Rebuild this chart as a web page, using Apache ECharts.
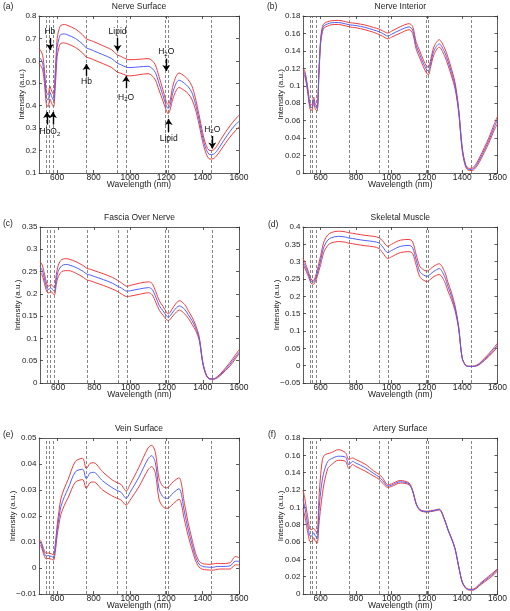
<!DOCTYPE html>
<html><head><meta charset="utf-8">
<script src="https://cdn.jsdelivr.net/npm/echarts@6/dist/echarts.min.js"></script>
<style>html,body{margin:0;padding:0;background:#fff}#c{width:510px;height:611px}</style>
</head><body><div id="c"></div>
<script>
const W = [500,510,520,530,540,550,560,570,580,590,600,610,620,640,660,700,740,760,780,800,850,900,930,950,980,1000,1050,1100,1120,1140,1160,1180,1200,1210,1220,1240,1270,1300,1320,1340,1360,1380,1400,1420,1440,1460,1480,1500,1550,1580,1600];

const aMean = [0.617,0.608,0.59,0.53,0.44,0.425,0.46,0.44,0.425,0.53,0.66,0.70,0.718,0.72,0.715,0.70,0.675,0.658,0.652,0.645,0.628,0.61,0.59,0.583,0.572,0.57,0.573,0.576,0.568,0.548,0.50,0.45,0.40,0.388,0.40,0.47,0.514,0.50,0.485,0.46,0.41,0.34,0.26,0.205,0.182,0.184,0.20,0.225,0.285,0.315,0.33];
const aUp = [0.655,0.645,0.625,0.56,0.465,0.448,0.487,0.465,0.45,0.565,0.70,0.74,0.758,0.762,0.757,0.742,0.716,0.698,0.692,0.686,0.668,0.649,0.627,0.62,0.608,0.605,0.607,0.61,0.603,0.582,0.53,0.475,0.418,0.405,0.42,0.50,0.546,0.532,0.516,0.49,0.435,0.36,0.28,0.222,0.2,0.203,0.222,0.25,0.31,0.34,0.358];
const aLo = [0.588,0.578,0.56,0.5,0.41,0.395,0.43,0.41,0.395,0.49,0.62,0.66,0.678,0.68,0.675,0.66,0.635,0.617,0.612,0.605,0.588,0.57,0.55,0.545,0.535,0.533,0.538,0.543,0.535,0.515,0.47,0.425,0.38,0.364,0.38,0.44,0.481,0.468,0.454,0.43,0.385,0.318,0.24,0.185,0.162,0.164,0.18,0.203,0.26,0.288,0.306];

const bMean = [0.117,0.114,0.104,0.09,0.076,0.075,0.084,0.076,0.074,0.115,0.152,0.165,0.169,0.171,0.1722,0.1725,0.171,0.17,0.1695,0.169,0.167,0.164,0.162,0.16,0.157,0.159,0.164,0.1675,0.164,0.146,0.136,0.126,0.118,0.117,0.124,0.14,0.148,0.139,0.128,0.115,0.1,0.072,0.028,0.008,0.004,0.0045,0.009,0.016,0.037,0.052,0.061];
const bUp = [0.1197,0.117,0.107,0.093,0.079,0.078,0.087,0.079,0.077,0.118,0.155,0.168,0.1715,0.1735,0.1745,0.175,0.1735,0.1725,0.172,0.1715,0.1697,0.1668,0.165,0.163,0.1605,0.1625,0.1677,0.1712,0.168,0.15,0.14,0.13,0.122,0.1215,0.128,0.1445,0.1528,0.1435,0.1325,0.119,0.1035,0.0745,0.03,0.0095,0.0053,0.006,0.011,0.0185,0.04,0.0555,0.065];
const bLo = [0.1138,0.111,0.101,0.087,0.073,0.072,0.081,0.073,0.071,0.112,0.149,0.162,0.1665,0.1685,0.17,0.1703,0.1687,0.1677,0.167,0.1665,0.1643,0.1612,0.1588,0.1568,0.1538,0.1557,0.1603,0.1643,0.16,0.142,0.132,0.122,0.114,0.1128,0.12,0.1355,0.1444,0.1345,0.1235,0.111,0.0965,0.0695,0.026,0.0068,0.0028,0.003,0.007,0.0135,0.034,0.0485,0.0566];

const cMean = [0.261,0.255,0.242,0.225,0.211,0.21,0.214,0.209,0.206,0.232,0.25,0.258,0.263,0.266,0.265,0.259,0.25,0.244,0.242,0.239,0.232,0.224,0.217,0.213,0.206,0.207,0.211,0.214,0.21,0.193,0.173,0.162,0.15,0.1475,0.151,0.162,0.173,0.165,0.153,0.14,0.124,0.1,0.045,0.017,0.009,0.009,0.013,0.02,0.042,0.058,0.069];
const cUp = [0.272,0.267,0.253,0.235,0.219,0.217,0.222,0.217,0.214,0.243,0.263,0.272,0.277,0.279,0.278,0.272,0.263,0.257,0.255,0.252,0.245,0.237,0.23,0.225,0.217,0.219,0.224,0.227,0.223,0.205,0.184,0.172,0.158,0.155,0.159,0.172,0.1847,0.176,0.162,0.148,0.13,0.104,0.047,0.018,0.0095,0.0095,0.0145,0.022,0.046,0.063,0.0745];
const cLo = [0.25,0.244,0.231,0.215,0.203,0.202,0.206,0.201,0.198,0.221,0.238,0.245,0.25,0.252,0.252,0.246,0.237,0.231,0.229,0.226,0.219,0.211,0.205,0.2,0.194,0.195,0.199,0.2025,0.198,0.181,0.163,0.152,0.142,0.14,0.143,0.153,0.1638,0.155,0.145,0.132,0.118,0.096,0.043,0.016,0.0085,0.0085,0.0115,0.018,0.038,0.054,0.0655];

const dMean = [0.299,0.29,0.278,0.265,0.25,0.242,0.241,0.25,0.265,0.285,0.305,0.328,0.345,0.362,0.369,0.373,0.371,0.368,0.367,0.365,0.361,0.358,0.354,0.343,0.326,0.332,0.344,0.347,0.34,0.305,0.272,0.262,0.258,0.259,0.264,0.272,0.28,0.258,0.228,0.2,0.165,0.11,0.022,0.001,-0.002,-0.002,0.0,0.006,0.03,0.047,0.059];
const dUp = [0.309,0.299,0.286,0.272,0.256,0.247,0.246,0.257,0.274,0.296,0.318,0.342,0.36,0.377,0.384,0.388,0.386,0.383,0.382,0.38,0.376,0.373,0.369,0.36,0.344,0.35,0.362,0.364,0.357,0.32,0.287,0.277,0.273,0.274,0.279,0.287,0.294,0.272,0.24,0.21,0.172,0.114,0.023,0.0015,-0.0015,-0.0015,0.001,0.008,0.034,0.052,0.065];
const dLo = [0.292,0.282,0.27,0.258,0.244,0.236,0.235,0.243,0.256,0.274,0.292,0.314,0.33,0.347,0.354,0.358,0.356,0.353,0.352,0.35,0.346,0.343,0.338,0.326,0.309,0.314,0.326,0.329,0.323,0.29,0.257,0.247,0.243,0.244,0.249,0.257,0.263,0.243,0.215,0.19,0.158,0.106,0.021,0.0005,-0.0025,-0.0025,-0.001,0.004,0.026,0.042,0.054];

const eMean = [0.0101,0.0095,0.0075,0.0055,0.0046,0.0048,0.0046,0.0044,0.004,0.008,0.0145,0.0195,0.0235,0.0275,0.0305,0.037,0.038,0.0343,0.0365,0.0368,0.0335,0.031,0.0298,0.0292,0.0268,0.029,0.035,0.042,0.0432,0.0405,0.0305,0.0275,0.0268,0.0268,0.0275,0.029,0.0305,0.0215,0.015,0.0095,0.0045,0.0015,0.0006,0.0004,0.0003,0.0003,0.0006,0.0006,0.0008,0.0026,0.0026];
const eUp = [0.0108,0.0104,0.0085,0.0065,0.0056,0.0058,0.0056,0.0054,0.005,0.0095,0.0165,0.022,0.0265,0.0308,0.034,0.041,0.0422,0.0382,0.0402,0.0405,0.037,0.034,0.0328,0.0322,0.0296,0.032,0.0388,0.0462,0.0472,0.0445,0.0345,0.0315,0.0308,0.031,0.0318,0.0333,0.0347,0.0248,0.0175,0.0115,0.006,0.0027,0.0017,0.0015,0.0014,0.0016,0.0018,0.0017,0.002,0.0044,0.004];
const eLo = [0.0092,0.0086,0.0065,0.0045,0.0035,0.0037,0.0035,0.0034,0.003,0.0065,0.0125,0.017,0.0205,0.0242,0.027,0.033,0.034,0.0306,0.0328,0.0331,0.03,0.0278,0.0268,0.0262,0.0242,0.026,0.0313,0.0378,0.039,0.0365,0.0265,0.0237,0.023,0.023,0.0235,0.0248,0.0265,0.0185,0.0125,0.0075,0.003,0.0004,-0.0005,-0.0007,-0.0008,-0.0008,-0.0005,-0.0004,-0.0004,0.0012,0.0012];

const fMean = [0.109,0.1,0.088,0.076,0.067,0.067,0.0706,0.067,0.064,0.095,0.118,0.133,0.142,0.153,0.156,0.159,0.158,0.149,0.153,0.151,0.146,0.139,0.135,0.131,0.1245,0.1255,0.1295,0.127,0.119,0.104,0.097,0.0955,0.095,0.0952,0.0955,0.0962,0.0975,0.086,0.074,0.064,0.052,0.032,0.014,0.007,0.005,0.005,0.007,0.011,0.019,0.024,0.028];
const fUp = [0.1197,0.111,0.097,0.085,0.0745,0.0745,0.0756,0.073,0.07,0.11,0.138,0.155,0.16,0.162,0.163,0.1666,0.163,0.155,0.157,0.155,0.15,0.142,0.138,0.134,0.126,0.127,0.131,0.128,0.1195,0.1045,0.0975,0.096,0.0955,0.0957,0.096,0.0967,0.098,0.0865,0.0745,0.0645,0.0525,0.0325,0.0145,0.0075,0.0055,0.0056,0.0078,0.012,0.0205,0.0255,0.0292];
const fLo = [0.0987,0.09,0.079,0.068,0.0605,0.0605,0.065,0.061,0.0584,0.08,0.1,0.116,0.1286,0.1447,0.149,0.1543,0.153,0.1447,0.1493,0.147,0.142,0.136,0.1324,0.128,0.123,0.124,0.128,0.126,0.1185,0.1035,0.0965,0.095,0.0945,0.0947,0.095,0.0957,0.097,0.0855,0.0735,0.0635,0.0515,0.0315,0.0135,0.0065,0.0045,0.0044,0.0062,0.01,0.0175,0.0225,0.0268];

const titles = ['Nerve Surface','Nerve Interior','Fascia Over Nerve','Skeletal Muscle','Vein Surface','Artery Surface'];
const tags = ['(a)','(b)','(c)','(d)','(e)','(f)'];
const yMin = [0.1, 0, 0, -0.05, -0.01, 0];
const yMax = [0.8, 0.18, 0.35, 0.4, 0.05, 0.18];
const yStep = [0.1, 0.02, 0.05, 0.05, 0.01, 0.02];
const xTicks = [600, 800, 1000, 1200, 1400, 1600];
const bandLines = [542, 555, 577, 760, 930, 980, 1195, 1210, 1450];

// panel (a) annotations
const annoText = ['Hb', 'HbO2', 'Hb', 'Lipid', 'H2O', 'H2O', 'Lipid', 'H2O'];
const annoX = [560, 560, 761, 932, 979, 1200, 1213, 1453];
const annoY = [0.729, 0.283, 0.507, 0.731, 0.436, 0.64, 0.255, 0.295];
const arrowX = [560, 544, 577, 761, 932, 979, 1200, 1213, 1453];
const arrowFrom = [0.702, 0.316, 0.316, 0.533, 0.702, 0.478, 0.61, 0.283, 0.265];
const arrowTo = [0.648, 0.372, 0.372, 0.586, 0.644, 0.532, 0.555, 0.341, 0.209];

const panels = [[aUp,aMean,aLo],[bUp,bMean,bLo],[cUp,cMean,cLo],[dUp,dMean,dLo],[eUp,eMean,eLo],[fUp,fMean,fLo]];

const FONT = 'Liberation Sans, Arial, Helvetica, sans-serif';
const RED = '#f23c3c', BLUE = '#5060ff', AX = '#333';
const gridPos = [
  {left:39, top:16, width:200, height:157},
  {left:303, top:16, width:199, height:157},
  {left:40, top:227, width:199, height:156},
  {left:303, top:227, width:199, height:156},
  {left:39, top:438, width:200, height:156},
  {left:303, top:438, width:199, height:156}
];
const yNameGap = [13.5, 18, 18, 22.5, 22.5, 18];
const tagPos = [[3,2],[267,2],[3,219],[268,220],[3,430],[268,430]];

function fmtY(v){
  if (Math.abs(v) < 1e-9) return '0';
  const s = String(parseFloat(v.toFixed(4)));
  return s.replace('-', '\u2212');
}
function richLabel(t){
  if (t === 'H2O') return '{n|H}{s|2}{n|O}';
  if (t === 'HbO2') return '{n|HbO}{s|2}';
  return '{n|' + t + '}';
}

const grid = [], xAxis = [], yAxis = [], series = [], graphic = [];
const lineAx = {show:true, onZero:false, lineStyle:{color:AX, width:0.8}};
panels.forEach((p, i) => {
  grid.push(gridPos[i]);
  xAxis.push({gridIndex:i, type:'value', position:'bottom', min:500, max:1600,
    axisLine:lineAx, splitLine:{show:false},
    axisTick:{inside:true, length:3, customValues:xTicks, lineStyle:{color:AX, width:0.8}},
    axisLabel:{customValues:xTicks, fontSize:8.5, color:'#222', margin:0, fontFamily:FONT, formatter: v => String(v)},
    name:'Wavelength (nm)', nameLocation:'middle', nameGap:7, nameMoveOverlap:false,
    nameTextStyle:{fontSize:8.5, color:'#222', fontFamily:FONT}});
  xAxis.push({gridIndex:i, type:'value', position:'top', min:500, max:1600,
    axisLine:lineAx, splitLine:{show:false},
    axisTick:{inside:true, length:3, customValues:xTicks, lineStyle:{color:AX, width:0.8}},
    axisLabel:{show:false},
    name:titles[i], nameLocation:'middle', nameGap:4.5, nameMoveOverlap:false,
    nameTextStyle:{fontSize:8.5, color:'#222', fontFamily:FONT}});
  yAxis.push({gridIndex:i, type:'value', position:'left', min:yMin[i], max:yMax[i], interval:yStep[i],
    axisLine:lineAx, splitLine:{show:false},
    axisTick:{inside:true, length:3, lineStyle:{color:AX, width:0.8}},
    axisLabel:{fontSize:8, color:'#222', margin:2.5, fontFamily:FONT, formatter:fmtY},
    name:'Intensity (a.u.)', nameLocation:'middle', nameGap:yNameGap[i], nameRotate:90, nameMoveOverlap:false,
    nameTextStyle:{fontSize:8, color:'#222', fontFamily:FONT}});
  yAxis.push({gridIndex:i, type:'value', position:'right', min:yMin[i], max:yMax[i], interval:yStep[i],
    axisLine:lineAx, splitLine:{show:false},
    axisTick:{inside:true, length:3, lineStyle:{color:AX, width:0.8}},
    axisLabel:{show:false}});
  const names = ['upper','mean','lower'];
  const order = [0, 2, 1];
  order.forEach(k => {
    const s = {
      type:'line', name:names[k], xAxisIndex:2*i, yAxisIndex:2*i,
      data: W.map((w, j) => [w, p[k][j]]),
      showSymbol:false, symbol:'none', smooth:0.3, animation:false, silent:true,
      lineStyle:{color: k === 1 ? BLUE : RED, width:1}, z: k === 1 ? 4 : 3
    };
    if (k === 0) {
      s.markLine = {silent:true, symbol:['none','none'], animation:false,
        label:{show:false}, lineStyle:{type:[3,2], color:'#666', width:0.8},
        data: bandLines.map(v => ({xAxis:v}))};
    }
    if (i === 0 && k === 1) {
      s.markLine = {silent:true, symbol:['none','arrow'], symbolSize:6, animation:false,
        label:{show:false}, lineStyle:{type:'solid', color:'#000', width:1.4},
        data: arrowX.map((x, j) => [{coord:[x, arrowFrom[j]]}, {coord:[x, arrowTo[j]]}])};
      s.markPoint = {silent:true, animation:false, symbol:'circle', symbolSize:1,
        itemStyle:{color:'rgba(0,0,0,0)'},
        label:{show:true, position:'inside', color:'#111', fontFamily:FONT,
          rich:{n:{fontSize:8.5, fontFamily:FONT, color:'#111', lineHeight:10},
                s:{fontSize:6, fontFamily:FONT, color:'#111', lineHeight:7, verticalAlign:'bottom'}}},
        data: annoText.map((t, j) => ({coord:[annoX[j], annoY[j]], label:{formatter: richLabel(t)}}))};
    }
    series.push(s);
  });
  graphic.push({type:'text', left:tagPos[i][0], top:tagPos[i][1],
    style:{text:tags[i], font:'8.5px ' + FONT, fill:'#222'}});
});

const chart = echarts.init(document.getElementById('c'), null, {renderer:'canvas'});
chart.setOption({animation:false, backgroundColor:'#fff', grid, xAxis, yAxis, series, graphic});
</script>
</body></html>
